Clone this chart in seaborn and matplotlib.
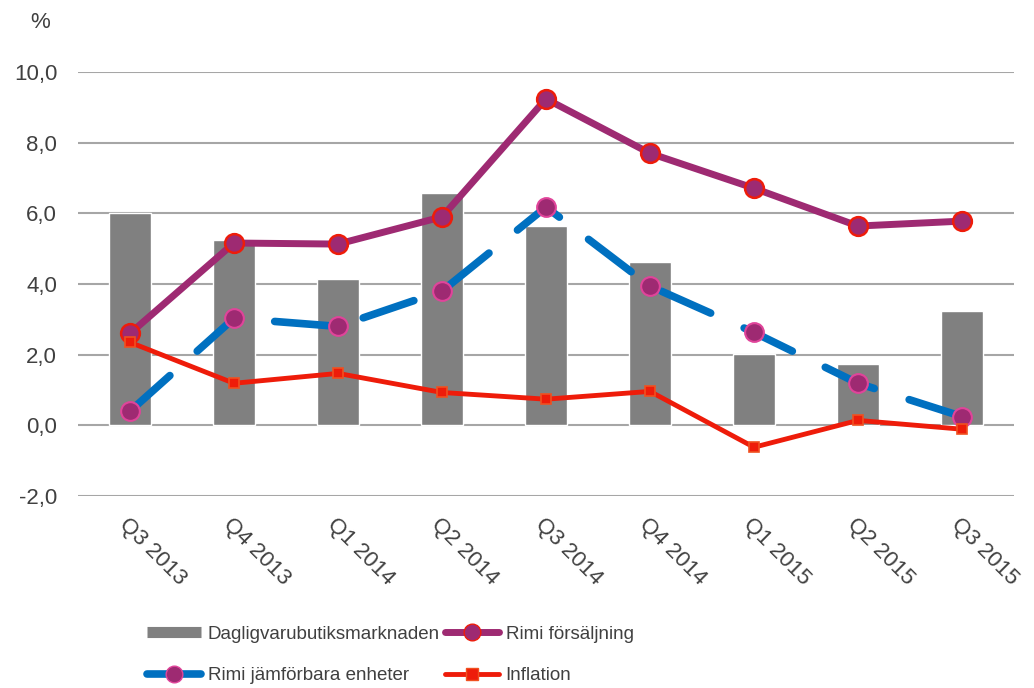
import matplotlib
matplotlib.use("Agg")
import matplotlib.pyplot as plt
import seaborn as sns
import pandas as pd
from matplotlib.lines import Line2D

# Data (percent)
quarters = ["Q3 2013", "Q4 2013", "Q1 2014", "Q2 2014", "Q3 2014",
            "Q4 2014", "Q1 2015", "Q2 2015", "Q3 2015"]
market = [6.0, 5.24, 4.14, 6.57, 5.64, 4.62, 2.01, 1.73, 3.23]
rimi_sales = [2.6, 5.16, 5.13, 5.9, 9.24, 7.7, 6.71, 5.64, 5.78]
rimi_like = [0.4, 3.03, 2.8, 3.8, 6.18, 3.94, 2.63, 1.19, 0.25]
inflation = [2.35, 1.19, 1.47, 0.93, 0.74, 0.96, -0.62, 0.14, -0.11]
yticks = [-2, 0, 2, 4, 6, 8, 10]

GRAY = "#808080"
PURPLE = "#9E2A72"
RED = "#EE1C0A"
BLUE = "#0070C0"
PINK = "#E0449A"
TEXT = "#404040"

sns.set_style("white")
plt.rcParams["font.family"] = ["Liberation Sans", "DejaVu Sans"]

fig = plt.figure(figsize=(10.34, 6.88), dpi=100)
ax = fig.add_axes([78 / 1034, 1 - 496 / 688, (1014 - 78) / 1034, (496 - 72) / 688])

df = pd.DataFrame({"quarter": quarters, "market": market})
sns.barplot(data=df, x="quarter", y="market", color=GRAY, saturation=1,
            width=0.4, ax=ax, zorder=2)

xs = list(range(len(quarters)))
sns.lineplot(x=xs, y=rimi_sales, sort=False, ax=ax, color=PURPLE, lw=5,
             marker="o", markersize=13.5, markerfacecolor=PURPLE,
             markeredgecolor=RED, markeredgewidth=1.8, zorder=4)
sns.lineplot(x=xs, y=rimi_like, sort=False, ax=ax, color=BLUE, lw=5.5,
             zorder=3)
ax.lines[-1].set_dashes((7, 4.8))
ax.lines[-1].set_dash_capstyle("round")
sns.lineplot(x=xs, y=rimi_like, sort=False, ax=ax, color=BLUE, lw=0,
             marker="o", markersize=13.5, markerfacecolor=PURPLE,
             markeredgecolor=PINK, markeredgewidth=1.5, zorder=4)
sns.lineplot(x=xs, y=inflation, sort=False, ax=ax, color=RED, lw=3.5,
             marker="s", markersize=7.5, markerfacecolor=RED,
             markeredgecolor="#F05020", markeredgewidth=1.2, zorder=5)

ax.set_xlim(-0.5, len(quarters) - 0.5)
ax.set_ylim(-2, 10)
ax.set_yticks(yticks)
ax.set_yticklabels([f"{v:.1f}".replace(".", ",") for v in yticks],
                   fontsize=16, color=TEXT)
ax.set_xticks(xs)
ax.set_xticklabels(quarters, rotation=-45, ha="left", rotation_mode="anchor",
                   fontsize=16, color=TEXT)
ax.tick_params(axis="both", length=0)
ax.tick_params(axis="x", pad=13)
ax.tick_params(axis="y", pad=15)
ax.set_xlabel("")
ax.set_ylabel("")
ax.grid(axis="y", color="#A6A6A6", lw=1.5, zorder=0)
ax.set_axisbelow(True)
sns.despine(ax=ax, left=True, bottom=True)
fig.text(40 / 1034, 1 - 22 / 688, "%", fontsize=16, color=TEXT,
         ha="center", va="center")

handles = [
    Line2D([], [], color=GRAY, lw=8, solid_capstyle="butt"),
    Line2D([], [], color=BLUE, lw=5.5, marker="o", markersize=12,
           markerfacecolor=PURPLE, markeredgecolor=PINK, solid_capstyle="round"),
    Line2D([], [], color=PURPLE, lw=5, marker="o", markersize=12,
           markerfacecolor=PURPLE, markeredgecolor=RED, solid_capstyle="round"),
    Line2D([], [], color=RED, lw=3.5, marker="s", markersize=8,
           markerfacecolor=RED, markeredgecolor="#F05020", solid_capstyle="round"),
]
labels = ["Dagligvarubutiksmarknaden", "Rimi jämförbara enheter",
          "Rimi försäljning", "Inflation"]
leg = fig.legend(handles, labels, ncol=2, loc="center left",
                 bbox_to_anchor=(147 / 1034, 1 - 655 / 688), frameon=False,
                 fontsize=13.5, handlelength=2.9, handletextpad=0.35,
                 columnspacing=0.25, labelspacing=1.3, labelcolor=TEXT,
                 borderpad=0, borderaxespad=0)

fig.savefig("out.png", dpi=100)
